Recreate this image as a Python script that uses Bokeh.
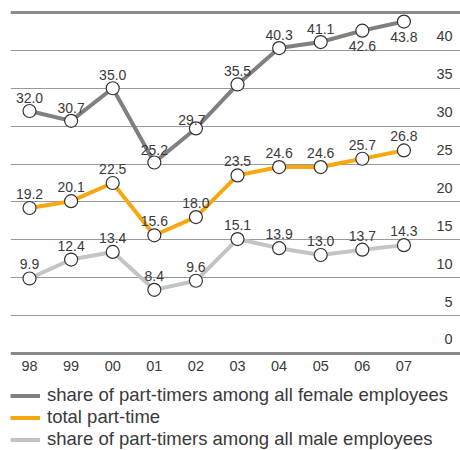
from bokeh.plotting import figure
from bokeh.models import ColumnDataSource, FixedTicker, Span, Legend, LegendItem, Range1d
from bokeh.core.properties import value
from bokeh.embed import file_html
from bokeh.resources import INLINE

years = ["98", "99", "00", "01", "02", "03", "04", "05", "06", "07"]
female = [32.0, 30.7, 35.0, 25.2, 29.7, 35.5, 40.3, 41.1, 42.6, 43.8]
total = [19.2, 20.1, 22.5, 15.6, 18.0, 23.5, 24.6, 24.6, 25.7, 26.8]
male = [9.9, 12.4, 13.4, 8.4, 9.6, 15.1, 13.9, 13.0, 13.7, 14.3]
y_ticks = [0, 5, 10, 15, 20, 25, 30, 35, 40]
y_max = 45

# label placement (pixels, negative = above)
female_dy = [-13, -13, -13, -13, -8, -13, -13, -13, 15, 15]
female_dx = [0, 0, 0, 0, -4, 0, 0, 0, 0, 0]
total_dy = [-14] * 10
male_dy = [-14] * 10

FONT = "Liberation Sans"
C_FEM = "#808080"
C_TOT = "#f5a80f"
C_MALE = "#c4c4c4"
TXT = "#3a3a3a"

n = len(years)
xs = list(range(n))
x_start = -0.457
x_end = 10.36
x_lab = 10.17

p = figure(width=460, height=450, output_backend="svg", toolbar_location=None,
           x_range=Range1d(x_start, x_end), y_range=Range1d(-12.8, 46.58),
           min_border_left=10, min_border_right=0, min_border_top=0, min_border_bottom=0)
p.outline_line_color = None
p.background_fill_color = "white"
p.axis.visible = False
p.xgrid.visible = False
p.ygrid.ticker = FixedTicker(ticks=y_ticks[1:])
p.ygrid.grid_line_color = "#9a9a9a"
p.ygrid.grid_line_width = 1

for v in (0, y_max):
    p.add_layout(Span(location=v, dimension="width", line_color="#8a8a8a", line_width=3))

# x labels (years)
ysrc = ColumnDataSource(dict(x=xs, y=[0] * n, lab=years))
p.text("x", "y", text="lab", source=ysrc, y_offset=13,
       text_align="center", text_baseline="middle",
       text_font=value(FONT), text_font_size="14.5px", text_color=TXT)

items = []
for data, col, dy, dx, name in [
    (female, C_FEM, female_dy, female_dx, "share of part-timers among all female employees"),
    (total, C_TOT, total_dy, [0] * n, "total part-time"),
    (male, C_MALE, male_dy, [0] * n, "share of part-timers among all male employees"),
]:
    src = ColumnDataSource(dict(x=xs, y=data, lab=[f"{v:.1f}" for v in data], dy=dy, dx=dx))
    r = p.line("x", "y", source=src, line_color=col, line_width=4)
    p.scatter("x", "y", source=src, size=13, fill_color="white", line_color="#333333", line_width=1.2)
    p.text("x", "y", text="lab", source=src, y_offset="dy", x_offset="dx",
           text_align="center", text_baseline="middle",
           text_font=value(FONT), text_font_size="14px", text_color=TXT)
    items.append(LegendItem(label=name, renderers=[r]))

rsrc = ColumnDataSource(dict(x=[x_lab] * len(y_ticks), y=y_ticks, lab=[str(t) for t in y_ticks]))
p.text("x", "y", text="lab", source=rsrc, y_offset=-14,
       text_align="right", text_baseline="middle",
       text_font=value(FONT), text_font_size="14.5px", text_color=TXT)

legend = Legend(items=items, location="bottom_left", orientation="vertical",
                label_text_font=FONT, label_text_font_size="18.5px", label_text_color=TXT,
                glyph_width=30, glyph_height=21, label_height=21, label_standoff=7,
                spacing=0, padding=0, margin=0, border_line_color=None,
                background_fill_alpha=0)
p.add_layout(legend)

open("out.html", "w").write(file_html(p, INLINE))
